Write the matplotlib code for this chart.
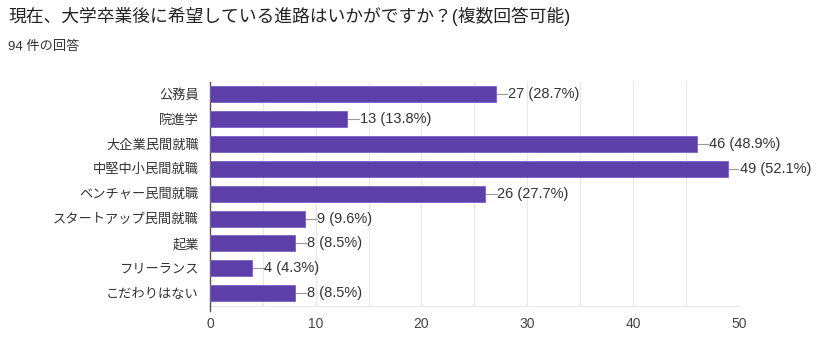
import matplotlib.pyplot as plt
import numpy as np

plt.rcParams['font.family'] = ['Liberation Sans', 'Noto Sans CJK JP']

categories = ['公務員', '院進学', '大企業民間就職', '中堅中小民間就職', 'ベンチャー民間就職',
              'スタートアップ民間就職', '起業', 'フリーランス', 'こだわりはない']
counts = [27, 13, 46, 49, 26, 9, 8, 4, 8]
percents = [28.7, 13.8, 48.9, 52.1, 27.7, 9.6, 8.5, 4.3, 8.5]
xticks = [0, 10, 20, 30, 40, 50]

fig = plt.figure(figsize=(8.2, 3.57), dpi=100)
ax = fig.add_axes([0.256, 0.144, 0.645, 0.627])

y = np.arange(len(categories))
ax.barh(y, counts, height=0.64, color='#5d3fa9', edgecolor='#7b61c0', linewidth=0.6, zorder=3)

for yi, c, p in zip(y, counts, percents):
    ax.plot([c, c + 1.1], [yi, yi], color='#999999', linewidth=0.8, zorder=2)
    ax.text(c + 1.15, yi, f'{c} ({p}%)', va='center', ha='left', fontsize=10.5, color='#333333')

ax.set_xlim(0, 50)
ax.set_ylim(len(categories) - 0.5, -0.5)
ax.set_yticks(y)
ax.set_yticklabels(categories, fontsize=9.5, color='#333333')
ax.set_xticks(xticks)
ax.set_xticklabels([str(t) for t in xticks], fontsize=10, color='#444444')
ax.set_xticks(np.arange(0, 51, 5), minor=True)
ax.grid(axis='x', which='both', color='#e8e8e8', linewidth=0.8, zorder=0)
ax.tick_params(axis='both', length=0, pad=8)
ax.tick_params(axis='x', which='minor', length=0)

for s in ['top', 'right']:
    ax.spines[s].set_visible(False)
ax.spines['bottom'].set_color('#e8e8e8')
ax.spines['left'].set_color('#555555')
ax.spines['left'].set_linewidth(1.0)
# left axis line runs a little past the bottom, as in the original
ax.plot([0, 0], [len(categories) - 0.5, len(categories) - 0.3], color='#555555',
        linewidth=1.0, clip_on=False, zorder=4)

fig.text(0.01, 0.955, '現在、大学卒業後に希望している進路はいかがですか？(複数回答可能)',
         fontsize=12.8, color='#222222', va='center', ha='left')
fig.text(0.01, 0.87, '94 件の回答', fontsize=9.5, color='#333333', va='center', ha='left')

fig.savefig('out.png', dpi=100)
